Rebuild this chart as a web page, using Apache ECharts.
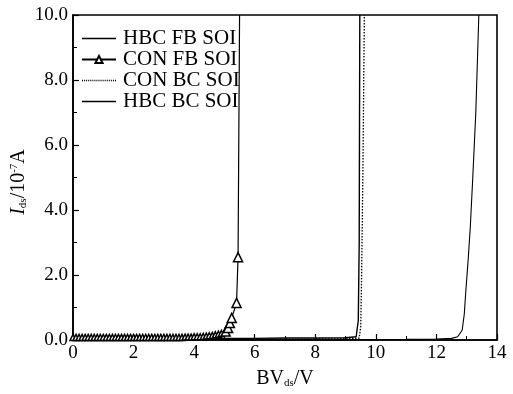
<!DOCTYPE html>
<html><head><meta charset="utf-8">
<script src="https://cdn.jsdelivr.net/npm/echarts@6/dist/echarts.min.js"></script>
<style>html,body{margin:0;padding:0;background:#fff}#c{width:513px;height:394px}</style>
</head><body><div id="c"></div>
<script>
// Series names
const seriesNames = ['HBC FB SOI', 'CON FB SOI', 'CON BC SOI', 'HBC BC SOI'];
// Axis ticks
const xTicks = [0, 2, 4, 6, 8, 10, 12, 14];
const yTicks = [0, 2, 4, 6, 8, 10];
// HBC FB SOI: [BVds (V), Ids (1e-7 A)]
const hbcFb = [[0,0.02],[1,0.03],[2,0.03],[3,0.04],[4,0.05],[5,0.05],[6,0.05],[7,0.06],[8,0.06],[9,0.07],[9.35,0.1],[9.42,0.6],[9.45,3.0],[9.47,10]];
// CON FB SOI (triangles)
const conFb = [[0,0.08],[0.1,0.08],[0.2,0.08],[0.3,0.08],[0.4,0.08],[0.5,0.08],[0.6,0.08],[0.7,0.08],[0.8,0.08],[0.9,0.08],[1.0,0.08],[1.1,0.08],[1.2,0.08],[1.3,0.08],[1.4,0.08],[1.5,0.08],[1.6,0.08],[1.7,0.08],[1.8,0.08],[1.9,0.08],[2.0,0.08],[2.1,0.08],[2.2,0.08],[2.3,0.08],[2.4,0.08],[2.5,0.08],[2.6,0.08],[2.7,0.08],[2.8,0.08],[2.9,0.08],[3.0,0.08],[3.1,0.08],[3.2,0.08],[3.3,0.08],[3.4,0.08],[3.5,0.08],[3.6,0.08],[3.7,0.09],[3.8,0.09],[3.9,0.09],[4.0,0.1],[4.1,0.1],[4.2,0.1],[4.3,0.11],[4.4,0.12],[4.5,0.13],[4.6,0.14],[4.7,0.16],[4.8,0.18],[4.9,0.2],[5.04,0.26],[5.12,0.37],[5.18,0.52],[5.24,0.68],[5.4,1.14],[5.45,2.55],[5.5,10]];
// CON BC SOI (dotted)
const conBc = [[0,0.01],[2,0.01],[4,0.02],[6,0.02],[8,0.03],[9,0.04],[9.45,0.06],[9.5,0.4],[9.53,2.0],[9.57,5.0],[9.62,10]];
// HBC BC SOI
const hbcBc = [[0,0.01],[4,0.01],[8,0.01],[11,0.02],[12,0.03],[12.5,0.05],[12.7,0.1],[12.85,0.3],[12.92,0.8],[12.97,1.5],[13.05,2.5],[13.12,3.5],[13.2,5.0],[13.3,7.0],[13.4,10]];

const FONT = '"Liberation Serif", "DejaVu Serif", serif';
const solidIcon = 'path://M0,0h34v1.3h-34z';
let dotted = 'path://';
for (let i = 0; i < 34; i += 2) dotted += 'M' + i + ',0h1v1.3h-1z';

const chart = echarts.init(document.getElementById('c'));
chart.setOption({
  backgroundColor: '#fff',
  animation: false,
  grid: {left: 73, right: 16, top: 15, bottom: 54, outerBoundsMode: 'none', containLabel: false,
         show: true, borderColor: '#000', borderWidth: 1.6, backgroundColor: 'transparent'},
  legend: {
    orient: 'vertical', left: 76, top: 23, itemGap: 0, itemWidth: 34, itemHeight: 9,
    data: [
      {name: seriesNames[0], icon: solidIcon},
      {name: seriesNames[1]},
      {name: seriesNames[2], icon: dotted},
      {name: seriesNames[3], icon: solidIcon}
    ],
    textStyle: {fontFamily: FONT, fontSize: 21, color: '#000', padding: [0,0,0,2]}
  },
  graphic: [{
    type: 'text', x: 19, y: 182, rotation: Math.PI / 2,
    style: {
      text: '{i|I}{s|ds}{n|/10}{p|-7}{n|A}',
      align: 'center', verticalAlign: 'middle',
      rich: {
        i: {fontFamily: FONT, fontSize: 20, fontStyle: 'italic', fill: '#000'},
        n: {fontFamily: FONT, fontSize: 20, fill: '#000'},
        s: {fontFamily: FONT, fontSize: 11, fill: '#000', padding: [9,0,0,0]},
        p: {fontFamily: FONT, fontSize: 11, fill: '#000', padding: [0,0,9,0]}
      }
    }
  }],
  xAxis: {
    type: 'value', min: 0, max: 14, interval: 2,
    axisLine: {show: true, lineStyle: {color: '#000', width: 1.6}},
    axisTick: {inside: true, length: 6, lineStyle: {color: '#000', width: 1.2}},
    minorTick: {show: true, splitNumber: 2, length: 4, lineStyle: {color: '#000', width: 1}},
    splitLine: {show: false},
    axisLabel: {fontFamily: FONT, fontSize: 19, color: '#000', margin: 4},
    name: '{n|BV}{s|ds}{n|/V}', nameLocation: 'middle', nameGap: 29,
    nameTextStyle: {rich: {
      n: {fontFamily: FONT, fontSize: 20, color: '#000'},
      s: {fontFamily: FONT, fontSize: 11, color: '#000', padding: [9,0,0,0]}
    }}
  },
  yAxis: {
    type: 'value', min: 0, max: 10, interval: 2,
    axisLine: {show: true, lineStyle: {color: '#000', width: 1.6}},
    axisTick: {inside: true, length: 6, lineStyle: {color: '#000', width: 1.2}},
    minorTick: {show: true, splitNumber: 2, length: 4, lineStyle: {color: '#000', width: 1}},
    splitLine: {show: false},
    axisLabel: {fontFamily: FONT, fontSize: 19, color: '#000', margin: 5, formatter: v => v.toFixed(1)}
  },
  series: [
    {name: seriesNames[0], type: 'line', data: hbcFb, symbol: 'none',
     lineStyle: {color: '#000', width: 1.4}, itemStyle: {color: '#000'}},
    {name: seriesNames[1], type: 'line', data: conFb, symbol: 'triangle',
     symbolSize: v => v[1] >= 10 ? 0 : (v[0] < 4.95 ? 6 : 9),
     lineStyle: {color: '#000', width: 1.2}, itemStyle: {color: '#fff', borderColor: '#000', borderWidth: 1.5}},
    {name: seriesNames[2], type: 'line', data: conBc, symbol: 'none',
     lineStyle: {color: '#000', width: 1.3, type: [1.5, 1.5]}, itemStyle: {color: '#000'}},
    {name: seriesNames[3], type: 'line', data: hbcBc, symbol: 'none',
     lineStyle: {color: '#000', width: 1.1}, itemStyle: {color: '#000'}}
  ]
});
</script>
</body></html>
